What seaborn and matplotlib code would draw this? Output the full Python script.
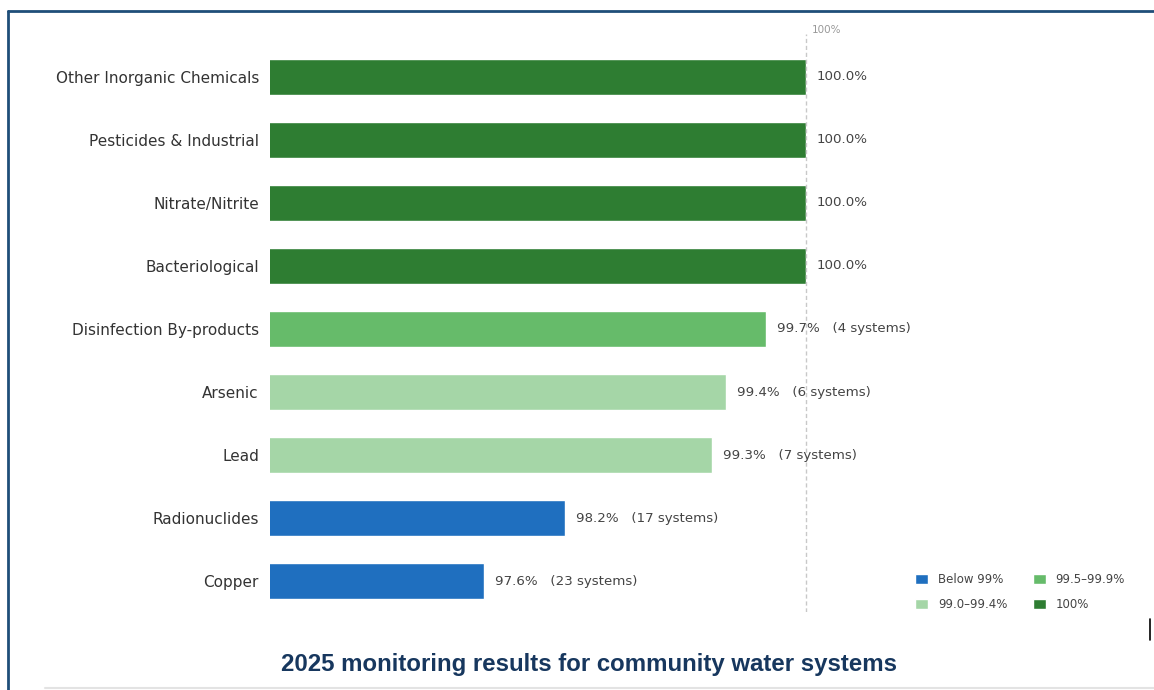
import pandas as pd
import matplotlib.pyplot as plt
import seaborn as sns

# data
contaminants = ["Other Inorganic Chemicals", "Pesticides & Industrial", "Nitrate/Nitrite",
                "Bacteriological", "Disinfection By-products", "Arsenic", "Lead",
                "Radionuclides", "Copper"]
compliance = [100.0, 100.0, 100.0, 100.0, 99.7, 99.4, 99.3, 98.2, 97.6]
systems = [0, 0, 0, 0, 4, 6, 7, 17, 23]
groups = ["100%", "100%", "100%", "100%", "99.5–99.9%", "99.0–99.4%", "99.0–99.4%",
          "Below 99%", "Below 99%"]
group_order = ["Below 99%", "99.0–99.4%", "99.5–99.9%", "100%"]
group_colors = {"Below 99%": "#1f6fbf", "99.0–99.4%": "#a5d6a7",
                "99.5–99.9%": "#66bb6a", "100%": "#2e7d32"}

df = pd.DataFrame({"Contaminant": contaminants, "Compliance": compliance,
                   "Systems": systems, "Group": groups})

sns.set_style("white")
plt.rcParams['font.family'] = ["DejaVu Sans"]

fig = plt.figure(figsize=(11.54, 6.90), dpi=100)
ax = fig.add_axes([270 / 1154, 1 - 612 / 690, (1140 - 270) / 1154, (612 - 34) / 690])

sns.barplot(data=df, x="Compliance", y="Contaminant", hue="Group", hue_order=group_order,
            palette=group_colors, dodge=False, width=0.58, orient="h", saturation=1, ax=ax)

ax.set_xlim(96.0, 102.49)
ax.set_ylim(8.49, -0.68)
ax.axvline(100, color="#c8c8c8", linestyle=(0, (3, 2)), linewidth=1)
ax.text(100.04, -0.745, "100%", fontsize=7.5, color="#999999", va="center", ha="left")

for i, (v, n) in enumerate(zip(compliance, systems)):
    label = f"{v:.1f}%" if n == 0 else f"{v:.1f}%   ({n} systems)"
    ax.text(v + 0.08, i, label, va="center", ha="left", fontsize=9.6, color="#444444")

ax.set_xlabel("")
ax.set_ylabel("")
ax.set_xticks([])
ax.tick_params(axis="y", length=0, labelsize=11, labelcolor="#333333", pad=8)
for s in ax.spines.values():
    s.set_visible(False)

handles, labels = ax.get_legend_handles_labels()
ax.legend(handles, labels, ncol=2, loc="lower right", bbox_to_anchor=(0.995, -0.017),
          frameon=False, fontsize=8.5, handlelength=1.1, handleheight=0.9,
          columnspacing=2.2, handletextpad=0.8, labelspacing=1.0, labelcolor="#444444")

fig.text(589 / 1154, 1 - 664 / 690, "2025 monitoring results for community water systems",
         ha="center", va="center", fontsize=17.3, fontweight="bold", color="#17375e",
         family="Liberation Sans")

# frame of the screenshot
fig.add_artist(plt.Line2D([8 / 1154, 1], [1 - 11 / 690] * 2, color="#1f4e79", lw=2))
fig.add_artist(plt.Line2D([8 / 1154] * 2, [0, 1 - 11 / 690], color="#1f4e79", lw=2))
fig.add_artist(plt.Line2D([45 / 1154, 1], [1 - 688 / 690] * 2, color="#e3e3e3", lw=1.5))
fig.add_artist(plt.Line2D([1150 / 1154] * 2, [1 - 640 / 690, 1 - 619 / 690], color="black", lw=1.2))

fig.savefig("out.png", dpi=100)
